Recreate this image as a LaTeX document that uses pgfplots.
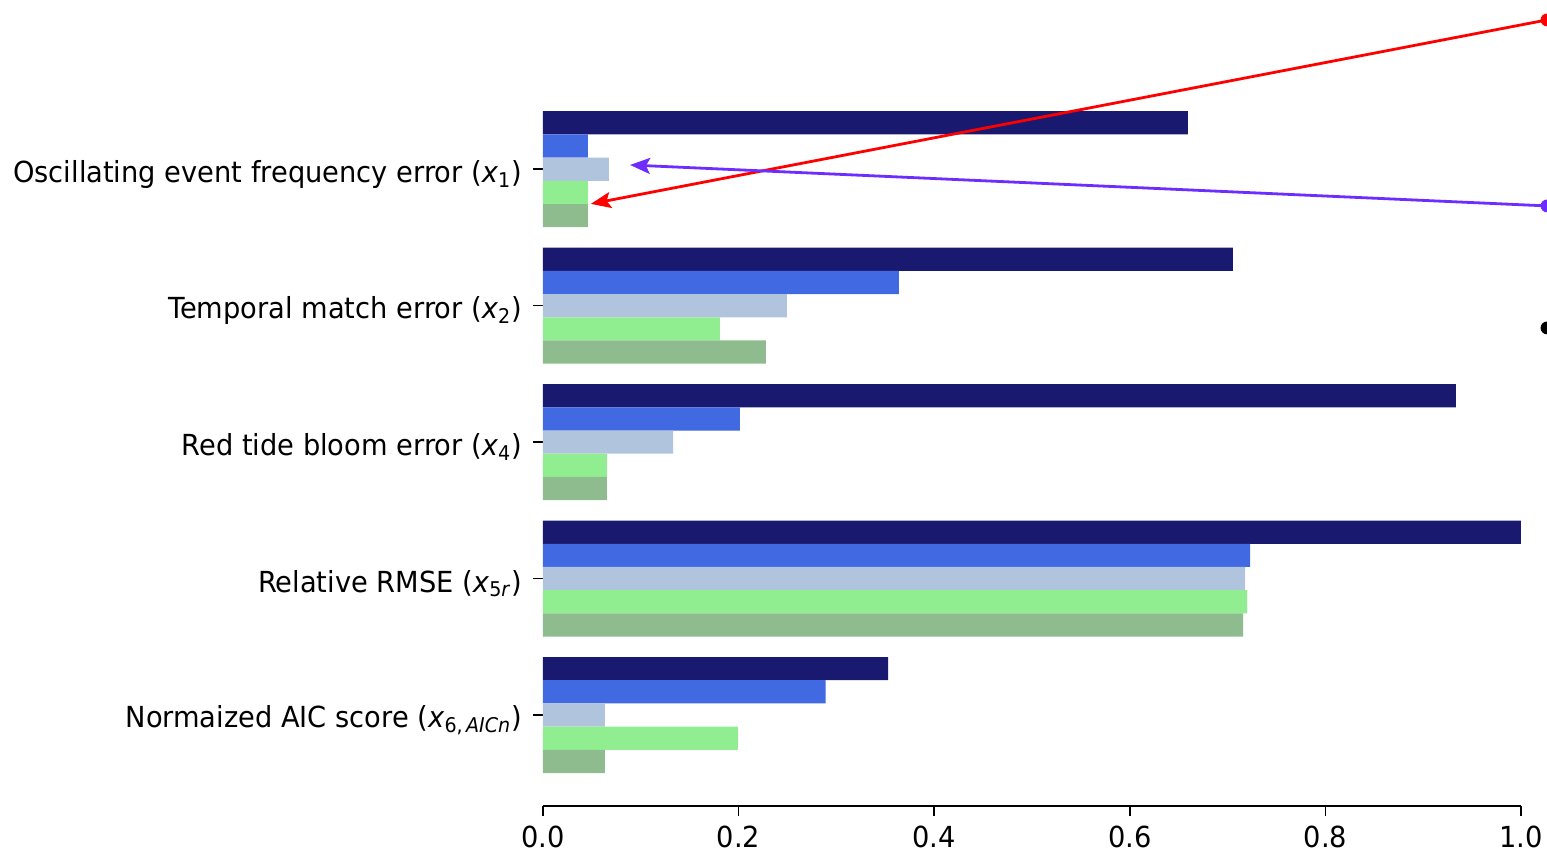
\documentclass[border=0pt]{standalone}
\usepackage{pgfplots}
\pgfplotsset{compat=1.18}
\usepackage{fontspec}
\setmainfont{DejaVu Sans}[FakeStretch=0.94]
\usetikzlibrary{arrows.meta}
\definecolor{c1}{HTML}{191970}
\definecolor{c2}{HTML}{4169E1}
\definecolor{c3}{HTML}{B0C4DE}
\definecolor{c4}{HTML}{90EE90}
\definecolor{c5}{HTML}{8FBC8F}
\definecolor{annpurple}{RGB}{110,45,255}
\begin{document}
\begin{tikzpicture}
\fontsize{14.5}{17}\selectfont
\begin{axis}[
  scale only axis,
  width=489pt, height=364pt,
  xmin=0, xmax=1,
  ymin=-0.6675, ymax=4.6675,
  y dir=reverse,
  axis x line*=bottom,
  axis y line*=left,
  y axis line style={draw=none},
  x axis line style={line width=0.8pt},
  tick align=outside,
  major tick length=5pt,
  tick style={line width=0.8pt, black},
  xtick={0,0.2,0.4,0.6,0.8,1.0},
  xticklabels={0.0,0.2,0.4,0.6,0.8,1.0},
  ytick={0,1,2,3,4},
  yticklabels={
    {Oscillating event frequency error (\textit{x}\textsubscript{1})},
    {Temporal match error (\textit{x}\textsubscript{2})},
    {Red tide bloom error (\textit{x}\textsubscript{4})},
    {Relative RMSE (\textit{x}\textsubscript{5\textit{r}})},
    {Normaized AIC score (\textit{x}\textsubscript{6,\,\textit{AICn}})}
  },
  yticklabel style={font=\fontsize{14.5}{17}\selectfont, xshift=-0.5pt, yshift=-2.5pt},
  xticklabel style={font=\fontsize{14.5}{17}\selectfont},
  clip=false,
  xbar, bar width=11.6pt, bar shift=0pt,
]
\addplot[draw=none, fill=c1] coordinates {(0.6595,-0.34) (0.7055,0.66) (0.9335,1.66) (1.0,2.66) (0.3528,3.66)};
\addplot[draw=none, fill=c2] coordinates {(0.046,-0.17) (0.364,0.83) (0.2014,1.83) (0.723,2.83) (0.289,3.83)};
\addplot[draw=none, fill=c3] coordinates {(0.0675,0) (0.2495,1) (0.133,2) (0.718,3) (0.0634,4)};
\addplot[draw=none, fill=c4] coordinates {(0.046,0.17) (0.181,1.17) (0.0654,2.17) (0.72,3.17) (0.1994,4.17)};
\addplot[draw=none, fill=c5] coordinates {(0.046,0.34) (0.228,1.34) (0.0654,2.34) (0.716,3.34) (0.0634,4.34)};
% annotations
\addplot[sharp plot, red, line width=1.4pt, -{Stealth[length=10pt,width=8pt,inset=2pt]}, mark=none] coordinates {(1.0266,-1.094) (0.049,0.254)};
\addplot[sharp plot, annpurple, line width=1.4pt, -{Stealth[length=10pt,width=8pt,inset=2pt]}, mark=none] coordinates {(1.0266,0.269) (0.089,-0.031)};
\addplot[only marks, mark=*, mark size=3pt, red] coordinates {(1.0266,-1.094)};
\addplot[only marks, mark=*, mark size=3pt, annpurple] coordinates {(1.0266,0.269)};
\addplot[only marks, mark=*, mark size=3pt, black] coordinates {(1.0266,1.163)};
\coordinate (bbSW) at (axis cs:-0.5552,5.016);
\coordinate (bbNE) at (axis cs:1.0266,-1.240);
\end{axis}
\pgfresetboundingbox
\path (bbSW) rectangle (bbNE);
\end{tikzpicture}
\end{document}
